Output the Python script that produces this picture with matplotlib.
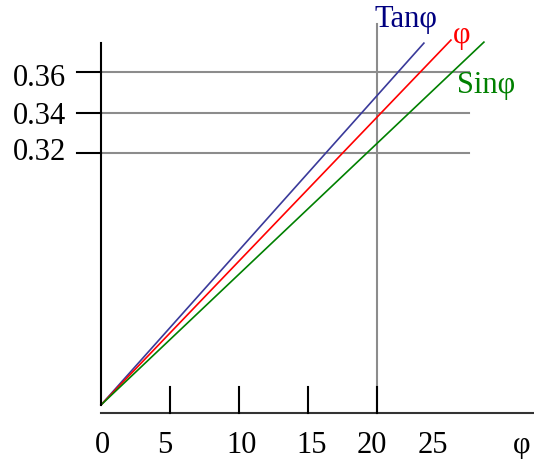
import numpy as np
import matplotlib.pyplot as plt

plt.rcParams['font.family'] = ['Liberation Serif', 'DejaVu Serif']

# x axis: angle phi in degrees, y axis: schematic value scale (broken near zero)
x_ticks = [0, 5, 10, 15, 20]
x_labels = ['0', '5', '10', '15', '20', '25']
y_ticks = [0.32, 0.34, 0.36]
y_labels = ['0.32', '0.34', '0.36']

# end points of the three curves (start, end)
tan_x = [0, 23.4]
tan_y = [0.1956, 0.3743]
phi_x = [0, 25.36]
phi_y = [0.1956, 0.3758]
sin_x = [0, 27.75]
sin_y = [0.1956, 0.3748]

# axis geometry in data units
x_axis_y = 0.1916
y_axis_top = 0.3743
tick_top = 0.2044
grid_right = 26.7
vline_x = 20
vline_top = 0.3837

fig = plt.figure(figsize=(5.34, 4.59), dpi=100)
ax = fig.add_axes([0, 0, 1, 1])
ax.set_xlim(-7.32, 31.38)
ax.set_ylim(0.1689, 0.3956)
ax.axis('off')

grey = '#8c8c8c'
# grey guide lines
for v in y_ticks:
    ax.plot([0, grid_right], [v, v], color=grey, lw=1.5, zorder=1)
ax.plot([vline_x, vline_x], [x_axis_y, vline_top], color=grey, lw=1.5, zorder=1)

# axes
ax.plot([0, 31.38], [x_axis_y, x_axis_y], color='#333333', lw=1.5, zorder=3)
ax.plot([0, 0], [tan_y[0], y_axis_top], color='black', lw=1.5, zorder=3)
for t in x_ticks[1:]:
    ax.plot([t, t], [x_axis_y, tick_top], color='black', lw=1.5, zorder=3)
for v in y_ticks:
    ax.plot([-1.74, 0], [v, v], color='black', lw=1.5, zorder=3)

# curves
ax.plot(tan_x, tan_y, color='#3a3a9a', lw=1.2, zorder=2)
ax.plot(phi_x, phi_y, color='#ff0000', lw=1.2, zorder=2)
ax.plot(sin_x, sin_y, color='#008000', lw=1.2, zorder=2)

fs = 22
# x tick labels
x_label_pos = [0.07, 4.64, 10.2, 15.3, 19.6, 24.06]
for pos, lab in zip(x_label_pos, x_labels):
    ax.text(pos, 0.1719, lab, fontsize=fs, ha='center', va='baseline')
ax.text(30.5, 0.1719, 'φ', fontsize=fs, ha='center', va='baseline')

# y tick labels
y_base_off = [0.0035, 0.0054, 0.0069]
for v, lab, off in zip(y_ticks, y_labels, y_base_off):
    ax.text(-2.54, v - off, lab, fontsize=fs, ha='right', va='baseline')

# curve names
ax.text(19.85, 0.3822, 'Tanφ', fontsize=fs, color='#000080', ha='left', va='baseline')
ax.text(25.5, 0.3743, 'φ', fontsize=fs, color='#ff0000', ha='left', va='baseline')
ax.text(25.8, 0.3496, 'Sinφ', fontsize=fs, color='#008000', ha='left', va='baseline')

fig.savefig('out.png', dpi=100)
